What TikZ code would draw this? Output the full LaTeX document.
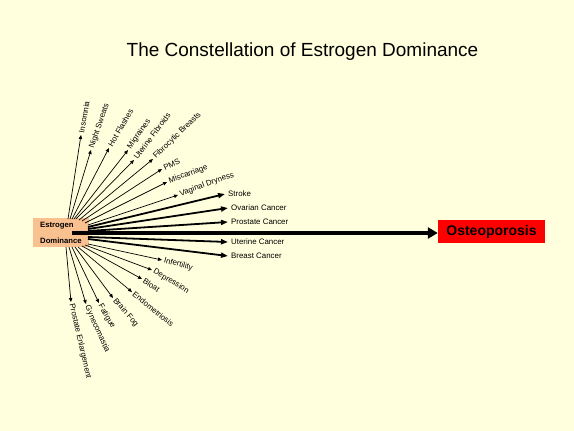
\documentclass[tikz,border=0pt]{standalone}
\usepackage{fontspec}
\setmainfont{Liberation Sans}
\usepackage{tikz}
\usetikzlibrary{arrows.meta,positioning,calc}
\definecolor{paper}{HTML}{FFFFDD}
\definecolor{peach}{HTML}{F9C090}
\definecolor{alarm}{HTML}{FF0000}

\begin{document}
\begin{tikzpicture}[x=1pt,y=-1pt,
lbl/.style={anchor=west,inner sep=2pt,font=\fontsize{7.9}{8}\selectfont},
thin/.style={-{Triangle[length=4pt,width=3.4pt]},line width=0.7pt},
heavy/.style={-{Triangle[length=7pt,width=5pt]},line width=1.8pt},
main/.style={-{Triangle[length=10pt,width=11pt]},line width=3.5pt}]
\fill[paper] (0,0) rectangle (574,431);
\useasboundingbox (0,0) rectangle (574,431);
\node[font=\fontsize{19}{22}\selectfont] (title) at (302.5,52) {The Constellation of Estrogen Dominance};
\node[fill=peach,minimum width=56pt,minimum height=29pt,inner sep=0pt] (dom) at (61,232.5) {};
\node[anchor=west,inner sep=0pt,font=\fontsize{7.7}{8}\bfseries] (est) at (40,226) {Estrogen};
\node[anchor=west,inner sep=0pt,font=\fontsize{7.7}{8}\bfseries] (dmn) at (40,241) {Dominance};
\node[fill=alarm,minimum width=107pt,minimum height=23pt,inner sep=0pt,font=\fontsize{14}{16}\bfseries] (osteo) at (491.5,231.5) {Osteoporosis};
% upper fan
\node[lbl,rotate=80] (insom) at (81,135) {Insomnia};
\node[lbl,rotate=71] (sweat) at (91,150) {Night Sweats};
\node[lbl,rotate=60] (flash) at (109,148) {Hot Flashes};
\node[lbl,rotate=55] (migr) at (128,150) {Migraines};
\node[lbl,rotate=53] (fibro) at (134,160) {Uterine Fibroids};
\node[lbl,rotate=44] (cyst) at (153,159) {Fibrocytic Breasts};
\node[lbl,rotate=25] (pms) at (162,169) {PMS};
\node[lbl,rotate=20] (misc) at (167,182) {Miscarriage};
\node[lbl,rotate=20] (dry) at (178,195) {Vaginal Dryness};
\coordinate (u1) at (68,219);\coordinate (u2) at (70,219);\coordinate (u3) at (72,219);
\coordinate (u4) at (74,219);\coordinate (u5) at (76,219);\coordinate (u6) at (79,220);
\coordinate (u7) at (82,221);\coordinate (u8) at (85,223);\coordinate (u9) at (88,225);
\draw[thin] (u1)--(insom.west);\draw[thin] (u2)--(sweat.west);\draw[thin] (u3)--(flash.west);
\draw[thin] (u4)--(migr.west);\draw[thin] (u5)--(fibro.west);\draw[thin] (u6)--(cyst.west);
\draw[thin] (u7)--(pms.west);\draw[thin] (u8)--(misc.west);\draw[thin] (u9)--(dry.west);
% cancers
\node[lbl,inner sep=3pt] (stroke) at (225,194) {Stroke};
\node[lbl,inner sep=3pt] (ovar) at (228,208) {Ovarian Cancer};
\node[lbl,inner sep=3pt] (prost) at (228,222) {Prostate Cancer};
\node[lbl,inner sep=3pt] (uter) at (228,242) {Uterine Cancer};
\node[lbl,inner sep=3pt] (breast) at (228,256) {Breast Cancer};
\coordinate (h1) at (88,227);\coordinate (h2) at (88,229);\coordinate (h3) at (88,231);
\coordinate (h4) at (88,237);\coordinate (h5) at (88,239);\coordinate (m0) at (72,233);
\draw[heavy] (h1)--(stroke.west);\draw[heavy] (h2)--(ovar.west);\draw[heavy] (h3)--(prost.west);
\draw[heavy] (h4)--(uter.west);\draw[heavy] (h5)--(breast.west);
\draw[main] (m0)--(m0-|osteo.west);
% lower fan
\node[lbl,rotate=-15] (infert) at (162,260) {Infertility};
\node[lbl,rotate=-31] (depr) at (152,270) {Depression};
\node[lbl,rotate=-33] (bloat) at (142,279) {Bloat};
\node[lbl,rotate=-39] (endo) at (132,292) {Endometriosis};
\node[lbl,rotate=-49] (fog) at (113,298) {Brain Fog};
\node[lbl,rotate=-60] (fatig) at (99,303) {Fatigue};
\node[lbl,rotate=-66] (gyn) at (86,304) {Gynecomastia};
\node[lbl,rotate=-77] (enlarg) at (71,302) {Prostate Enlargement};
\coordinate (d1) at (88,244);\coordinate (d2) at (85,245);\coordinate (d3) at (82,246);
\coordinate (d4) at (78,247);\coordinate (d5) at (75,247);\coordinate (d6) at (72,247);
\coordinate (d7) at (69,247);\coordinate (d8) at (66,247);
\draw[thin] (d1)--(infert.west);\draw[thin] (d2)--(depr.west);\draw[thin] (d3)--(bloat.west);
\draw[thin] (d4)--(endo.west);\draw[thin] (d5)--(fog.west);\draw[thin] (d6)--(fatig.west);
\draw[thin] (d7)--(gyn.west);\draw[thin] (d8)--(enlarg.west);
\end{tikzpicture}
\end{document}
